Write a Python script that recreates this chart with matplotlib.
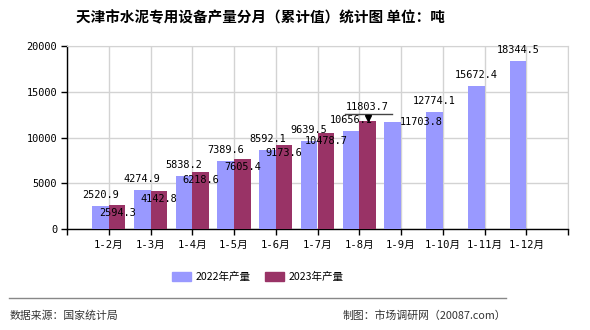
import numpy as np
import matplotlib.pyplot as plt
from matplotlib.lines import Line2D

months = ["1-2月", "1-3月", "1-4月", "1-5月", "1-6月", "1-7月",
          "1-8月", "1-9月", "1-10月", "1-11月", "1-12月"]
prod_2022 = [2520.9, 4274.9, 5838.2, 7389.6, 8592.1, 9639.5,
             10656.1, 11703.8, 12774.1, 15672.4, 18344.5]
prod_2023 = [2594.3, 4142.8, 6218.6, 7605.4, 9173.6, 10478.7, 11803.7]
yticks = [0, 5000, 10000, 15000, 20000]

c22 = "#9999FF"
c23 = "#993366"
mono = ["DejaVu Sans Mono", "Noto Sans CJK SC"]
cjk = ["Noto Sans CJK SC", "DejaVu Sans"]

fig = plt.figure(figsize=(5.9, 3.3), dpi=100)
ax = fig.add_axes([67 / 590, 1 - 229 / 330, 501 / 590, 183 / 330])

x = np.arange(len(months))
x23 = np.arange(len(prod_2023))
w = 0.4
ax.bar(x - w / 2, prod_2022, w, color=c22, zorder=3)
ax.bar(x23 + w / 2, prod_2023, w, color=c23, zorder=3)

last = len(prod_2023) - 1

# value labels, 2022 above the bars
for xi, v in zip(x, prod_2022):
    off = (0, 11)
    if xi == last + 1:
        off = (29, 0)   # pushed aside, as in the source chart
    ax.annotate(f"{v:.1f}", (xi - w / 2, v), xytext=off, textcoords="offset pixels",
                ha="center", va="center", fontsize=7.4, family=mono, zorder=5)

# 2023 labels just inside the bar tops, latest one with a pointer
for xi, v in zip(x23, prod_2023):
    if xi == last:
        ax.annotate(f"{v:.1f}", (xi + w / 2, v), xytext=(0, 14), textcoords="offset pixels",
                    ha="center", va="center", fontsize=7.4, family=mono, zorder=5)
        ax.plot([xi - 0.34, xi + 0.79], [v + 770, v + 770], color="#444444",
                lw=1.0, zorder=6, clip_on=False)
        ax.plot([xi + w / 2], [v + 330], marker="v", color="black", ms=4.5,
                zorder=6, clip_on=False)
    else:
        ax.annotate(f"{v:.1f}", (xi + w / 2, v), xytext=(0, -8), textcoords="offset pixels",
                    ha="center", va="center", fontsize=7.4, family=mono, zorder=5)

ax.set_xlim(-1, 11)
ax.set_ylim(0, 20000)
ax.set_yticks(yticks)
ax.set_yticklabels([str(t) for t in yticks], family=mono, fontsize=7.4)
ax.set_xticks(np.arange(-1, 12))
ax.set_xticklabels([""] + months + [""], family=mono, fontsize=7.6)
ax.tick_params(axis="both", length=4, width=1, color="black", pad=3)
ax.tick_params(axis="x", pad=4)

ax.grid(True, color="#D3D3D3", lw=1, zorder=0)
ax.set_axisbelow(True)
for s in ["top", "right"]:
    ax.spines[s].set_color("#D3D3D3")
for s in ["left", "bottom"]:
    ax.spines[s].set_color("black")
    ax.spines[s].set_linewidth(1)

fig.text(260 / 590, 1 - 17 / 330, "天津市水泥专用设备产量分月（累计值）统计图 单位：吨",
         ha="center", va="center", fontsize=10.5, fontweight="bold", family=cjk)

# legend
handles = [plt.Rectangle((0, 0), 1, 1, color=c22), plt.Rectangle((0, 0), 1, 1, color=c23)]
fig.legend(handles, ["2022年产量", "2023年产量"], loc="center", ncol=2,
           bbox_to_anchor=(258 / 590, 1 - 277 / 330), frameon=False,
           prop={"family": cjk, "size": 7.6}, handlelength=1.8, handleheight=0.9,
           columnspacing=1.4, handletextpad=0.4)

fig.add_artist(Line2D([9 / 590, 506 / 590], [1 - 298 / 330] * 2, color="#888888", lw=1))
fig.text(10 / 590, 1 - 316 / 330, "数据来源：国家统计局", ha="left", va="center",
         fontsize=7.8, family=cjk, color="#333333")
fig.text(506 / 590, 1 - 316 / 330, "制图：市场调研网（20087.com）", ha="right", va="center",
         fontsize=7.8, family=cjk, color="#333333")

fig.savefig("out.png", dpi=100, facecolor="white")
